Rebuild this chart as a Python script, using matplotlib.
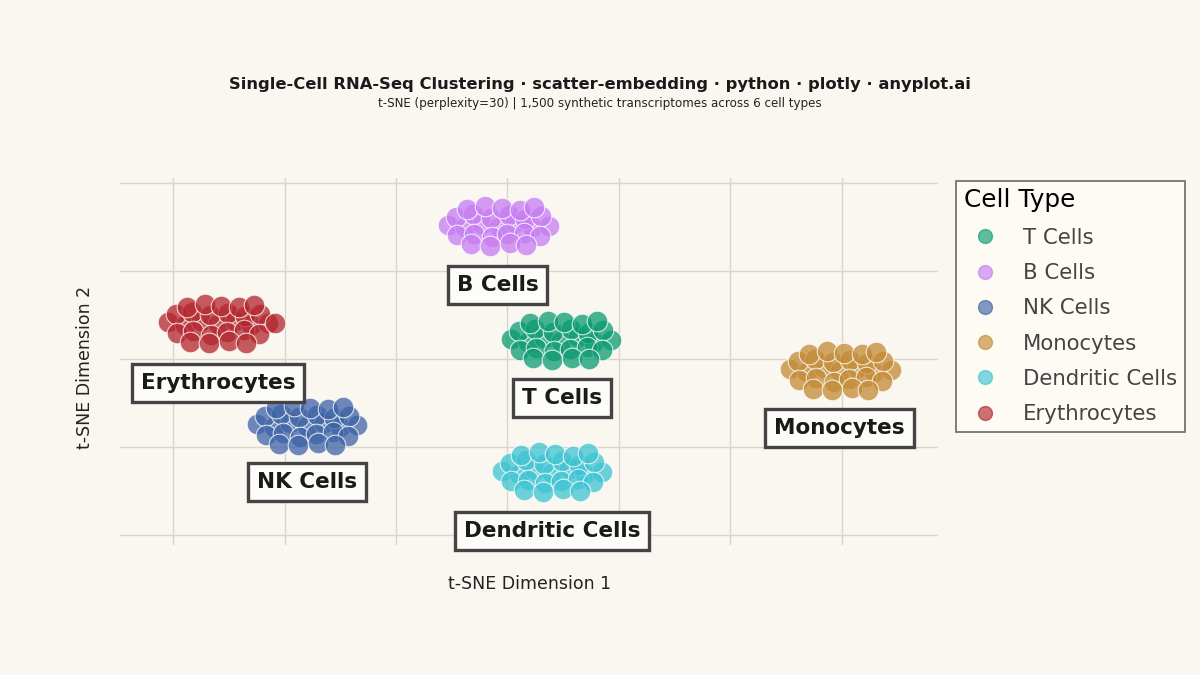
import matplotlib.pyplot as plt
from matplotlib.lines import Line2D

# cluster data (t-SNE coordinates)
b_x = [-5.3, -3.8, -2.3, -0.8, 0.7, 2.2, 3.7, -4.6, -3.1, -1.5, 0.1, 1.6, 3.0,
       -4.5, -3.0, -1.4, 0.0, 1.5, 2.9, -3.6, -2.0, -0.5, 1.1, 2.4, -3.3, -1.6, 0.2, 1.7]
b_y = [15.3, 15.0, 15.4, 15.1, 15.5, 15.0, 15.2, 16.2, 16.5, 16.1, 16.4, 16.0, 16.3,
       14.1, 14.3, 13.9, 14.2, 14.4, 14.0, 17.1, 17.4, 17.2, 17.0, 17.3, 13.1, 12.9, 13.2, 13.0]

ery_x = [-30.5, -29, -27.5, -26, -24.5, -23, -21.5, -29.8, -28.3, -26.7, -25.1, -23.6, -22.2,
         -29.7, -28.2, -26.6, -25.2, -23.7, -22.3, -28.8, -27.2, -25.7, -24.1, -22.8,
         -28.5, -26.8, -25, -23.5, -20.9]
ery_y = [4.2, 3.9, 4.3, 4.0, 4.4, 3.9, 4.1, 5.1, 5.4, 5.0, 5.3, 4.9, 5.2,
         3.0, 3.2, 2.8, 3.1, 3.3, 2.9, 6.0, 6.3, 6.1, 5.9, 6.2, 2.0, 1.8, 2.1, 1.9, 4.1]

t_x = [0.3, 1.8, 3.3, 4.8, 6.3, 7.8, 9.3, 1.0, 2.5, 4.1, 5.7, 7.2, 8.6,
       1.1, 2.6, 4.2, 5.6, 7.1, 8.5, 2.0, 3.6, 5.1, 6.7, 8.0, 2.3, 4.0, 5.8, 7.3]
t_y = [2.3, 2.0, 2.4, 2.1, 2.5, 2.0, 2.2, 3.2, 3.5, 3.1, 3.4, 3.0, 3.3,
       1.1, 1.3, 0.9, 1.2, 1.4, 1.0, 4.1, 4.4, 4.2, 4.0, 4.3, 0.1, -0.1, 0.2, 0.0]

nk_x = [-22.5, -21, -19.5, -18, -16.5, -15, -13.5, -21.8, -20.3, -18.7, -17.1, -15.6, -14.2,
        -21.7, -20.2, -18.6, -17.2, -15.7, -14.3, -20.8, -19.2, -17.7, -16.1, -14.8,
        -20.5, -18.8, -17, -15.5]
nk_y = [-7.4, -7.7, -7.3, -7.6, -7.2, -7.7, -7.5, -6.5, -6.2, -6.6, -6.3, -6.7, -6.4,
        -8.6, -8.4, -8.8, -8.5, -8.3, -8.7, -5.6, -5.3, -5.5, -5.7, -5.4, -9.6, -9.8, -9.5, -9.7]

mono_x = [25.4, 26.9, 28.4, 29.9, 31.4, 32.9, 34.4, 26.1, 27.6, 29.2, 30.8, 32.3, 33.7,
          26.2, 27.7, 29.3, 30.7, 32.2, 33.6, 27.1, 28.7, 30.2, 31.8, 33.1, 27.4, 29.1, 30.9, 32.4]
mono_y = [-1.15, -1.45, -1.05, -1.35, -0.95, -1.45, -1.25, -0.25, 0.05, -0.35, -0.05, -0.45, -0.15,
          -2.35, -2.15, -2.55, -2.25, -2.05, -2.45, 0.65, 0.95, 0.75, 0.55, 0.85,
          -3.35, -3.55, -3.25, -3.45]

dc_x = [-0.5, 1.0, 2.5, 4.0, 5.5, 7.0, 8.5, 0.2, 1.7, 3.3, 4.9, 6.4, 7.8,
        0.3, 1.8, 3.4, 4.8, 6.3, 7.7, 1.2, 2.8, 4.3, 5.9, 7.2, 1.5, 3.2, 5.0, 6.5]
dc_y = [-12.7, -13.0, -12.6, -12.9, -12.5, -13.0, -12.8, -11.8, -11.5, -11.9, -11.6, -12.0, -11.7,
        -13.9, -13.7, -14.1, -13.8, -13.6, -14.0, -10.9, -10.6, -10.8, -11.0, -10.7,
        -14.9, -15.1, -14.8, -15.0]

cell_types = ["T Cells", "B Cells", "NK Cells", "Monocytes", "Dendritic Cells", "Erythrocytes"]
xs = [t_x, b_x, nk_x, mono_x, dc_x, ery_x]
ys = [t_y, b_y, nk_y, mono_y, dc_y, ery_y]
colors = ["#0a9b70", "#c57cf2", "#3d62a6", "#c28a35", "#3cc3d2", "#b3252c"]

# label anchor positions per cell type
label_x = [4.9, -0.9, -18.0, 29.8, 4.0, -26.0]
label_y = [-4.4, 8.5, -14.0, -7.8, -19.5, -2.7]

BG = "#faf7f1"
fig = plt.figure(figsize=(12, 6.75), dpi=100, facecolor=BG)
ax = fig.add_axes([0.1, 0.193, 0.682, 0.543], facecolor=BG)

for x, y, c in zip(xs, ys, colors):
    ax.scatter(x, y, s=220, color=c, alpha=0.75, edgecolors="white", linewidths=0.8, zorder=3)

for name, lx, ly in zip(cell_types, label_x, label_y):
    ax.text(lx, ly, name, ha="center", va="center", fontsize=15.5, fontweight="bold",
            color="#1a1a1a", zorder=5,
            bbox=dict(boxstyle="square,pad=0.42", facecolor="#fdfcf9",
                      edgecolor="#444444", linewidth=2.4))

ax.set_xlim(-34.8, 38.7)
ax.set_ylim(-21.1, 20.6)
ax.set_xticks([-30, -20, -10, 0, 10, 20, 30])
ax.set_yticks([-20, -10, 0, 10, 20])
ax.tick_params(length=0, labelbottom=False, labelleft=False)
ax.grid(True, color="#d9d5cb", linewidth=1)
ax.set_axisbelow(True)
for s in ax.spines.values():
    s.set_visible(False)

fig.text(0.441, 1 - 584 / 675, "t-SNE Dimension 1", ha="center", va="center", fontsize=12.5, color="#222222")
fig.text(0.071, 1 - 367 / 675, "t-SNE Dimension 2", ha="center", va="center", rotation=90,
         fontsize=12.5, color="#222222")

fig.text(0.5, 1 - 84 / 675,
         "Single-Cell RNA-Seq Clustering · scatter-embedding · python · plotly · anyplot.ai",
         ha="center", va="center", fontsize=11.8, fontweight="bold", color="#1a1a1a")
fig.text(0.5, 1 - 103 / 675,
         "t-SNE (perplexity=30) | 1,500 synthetic transcriptomes across 6 cell types",
         ha="center", va="center", fontsize=8.6, color="#222222")

handles = [Line2D([], [], marker="o", linestyle="", markersize=10, color=c, alpha=0.65)
           for c in colors]
leg = fig.legend(handles, cell_types, loc="upper left", bbox_to_anchor=(0.797, 0.732),
                 title="Cell Type", fontsize=15.3, title_fontsize=17.8, frameon=True,
                 fancybox=False, handletextpad=0.8, labelspacing=0.72, borderpad=0.35,
                 borderaxespad=0, alignment="left")
leg.get_frame().set_edgecolor("#444444")
leg.get_frame().set_facecolor("#fefdf6")
leg.get_frame().set_linewidth(1.2)
for t in leg.get_texts():
    t.set_color("#444444")

fig.savefig("out.png", dpi=100, facecolor=BG)
